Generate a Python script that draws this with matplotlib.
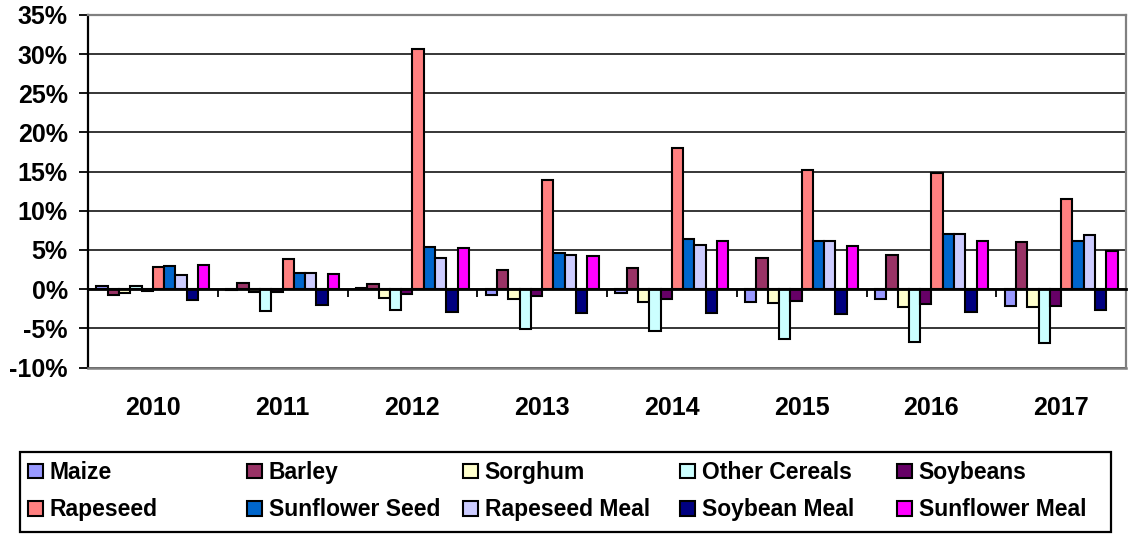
import numpy as np
import matplotlib
matplotlib.use('Agg')
import matplotlib.pyplot as plt
from matplotlib.patches import Rectangle
from matplotlib.ticker import PercentFormatter

plt.rcParams['font.family'] = ['Liberation Sans', 'DejaVu Sans']
plt.rcParams['font.weight'] = 'bold'
plt.rcParams['axes.unicode_minus'] = False

years = ['2010', '2011', '2012', '2013', '2014', '2015', '2016', '2017']

# yearly change, percent
maize = [0.4, -0.1, 0.2, -0.7, -0.5, -1.6, -1.3, -2.2]
barley = [-0.7, 0.8, 0.7, 2.4, 2.7, 4.0, 4.4, 6.0]
sorghum = [-0.5, -0.4, -1.1, -1.2, -1.6, -1.8, -2.3, -2.3]
other_cereals = [0.4, -2.8, -2.7, -5.1, -5.3, -6.4, -6.7, -6.9]
soybeans = [-0.2, -0.3, -0.6, -0.9, -1.3, -1.5, -1.9, -2.1]
rapeseed = [2.8, 3.8, 30.6, 13.9, 18.0, 15.2, 14.8, 11.5]
sunflower_seed = [3.0, 2.1, 5.4, 4.6, 6.4, 6.2, 7.0, 6.1]
rapeseed_meal = [1.8, 2.1, 4.0, 4.4, 5.7, 6.1, 7.1, 6.9]
soybean_meal = [-1.4, -2.0, -2.9, -3.1, -3.1, -3.2, -2.9, -2.6]
sunflower_meal = [3.1, 1.9, 5.3, 4.2, 6.1, 5.5, 6.1, 4.9]

series = [
    ('Maize', maize, '#9999FF'),
    ('Barley', barley, '#993366'),
    ('Sorghum', sorghum, '#FFFFCC'),
    ('Other Cereals', other_cereals, '#CCFFFF'),
    ('Soybeans', soybeans, '#660066'),
    ('Rapeseed', rapeseed, '#FF8080'),
    ('Sunflower Seed', sunflower_seed, '#0066CC'),
    ('Rapeseed Meal', rapeseed_meal, '#CCCCFF'),
    ('Soybean Meal', soybean_meal, '#000080'),
    ('Sunflower Meal', sunflower_meal, '#FF00FF'),
]

fig = plt.figure(figsize=(11.29, 5.34), dpi=100)
ax = fig.add_axes([88 / 1129, 1 - 367.5 / 534, (1126 - 88) / 1129, (367.5 - 15) / 534])

x = np.arange(len(years))
n = len(series)
w = 1 / (n + 1.5)
handles = []
for i, (name, vals, col) in enumerate(series):
    b = ax.bar(x + (i - (n - 1) / 2) * w, vals, w, color=col,
               edgecolor='black', linewidth=1.5, label=name, zorder=2)
    handles.append(b)

ax.set_xlim(-0.5, len(years) - 0.5)
ax.set_ylim(-10, 35)
ax.set_yticks(np.arange(-10, 36, 5))
ax.yaxis.set_major_formatter(PercentFormatter(decimals=0))
ax.yaxis.grid(True, color='black', linewidth=1.1)
ax.set_axisbelow(True)
ax.tick_params(axis='y', length=6.5, width=1.3, pad=8, labelsize=18)

# category axis crosses at zero, ticks between groups
ax.spines['bottom'].set_position(('data', 0))
ax.spines['bottom'].set_linewidth(2)
ax.spines['left'].set_linewidth(1.6)
ax.set_xticks(np.arange(-0.5, len(years), 1))
ax.set_xticklabels([])
ax.tick_params(axis='x', length=6, width=1.3, direction='out')
for s in ('top', 'right'):
    ax.spines[s].set_color('#808080')
    ax.spines[s].set_linewidth(1.6)
ax.plot([0, 1], [0, 0], transform=ax.transAxes, color='#808080',
        linewidth=1.8, clip_on=False, zorder=3)

for xi, yr in zip(x, years):
    ax.text(xi, -0.1135, yr, transform=ax.get_xaxis_transform(),
            ha='center', va='center', fontsize=18, fontweight='bold')

# legend: five columns of two rows inside one box
fig.add_artist(Rectangle((20 / 1129, 2 / 534), 1091 / 1129, 80 / 534,
                         transform=fig.transFigure, fill=False,
                         edgecolor='black', linewidth=1.6))
col_x = [28, 247, 463, 680, 897]
for j, cx in enumerate(col_x):
    fig.legend([handles[j], handles[j + 5]],
               [series[j][0], series[j + 5][0]],
               loc='upper left', bbox_to_anchor=(cx / 1129, 1 - 461 / 534),
               frameon=False, fontsize=16.5, handlelength=0.65,
               handleheight=0.62, handletextpad=0.3, labelspacing=0.63,
               borderpad=0, borderaxespad=0)

fig.savefig('out.png', dpi=100)
